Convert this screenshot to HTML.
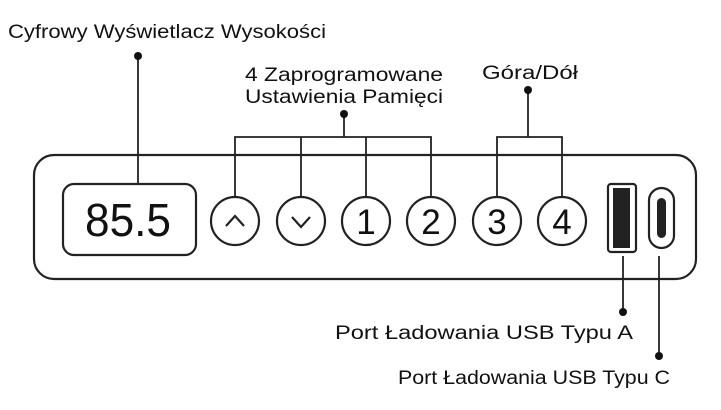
<!DOCTYPE html>
<html><head><meta charset="utf-8"><style>
html,body{margin:0;padding:0;background:#fff;}
svg{display:block;}
text{font-family:"Liberation Sans","DejaVu Sans",sans-serif;fill:#111;}
</style></head><body>
<svg width="721" height="410" viewBox="0 0 721 410" xmlns="http://www.w3.org/2000/svg">
<rect x="0" y="0" width="721" height="410" fill="#fff"/>
<g stroke="#222" stroke-width="2.2" fill="none">
<rect x="34" y="155" width="662" height="124" rx="20"/>
<rect x="63" y="184" width="133" height="71" rx="11"/>
<circle cx="235" cy="221" r="24"/>
<circle cx="301" cy="221" r="24"/>
<circle cx="366" cy="221" r="24"/>
<circle cx="431" cy="221" r="24"/>
<circle cx="497" cy="221" r="24"/>
<circle cx="562" cy="221" r="24"/>
<rect x="608" y="184" width="28" height="68" rx="3"/>
<rect x="649" y="188" width="25" height="60" rx="12.5"/>
<polyline points="226,226 235,216 244,226"/>
<polyline points="292,217 301,227 310,217"/>
<line x1="138" y1="56" x2="138" y2="184" stroke-width="1.8"/>
<polyline points="235,197 235,137 431,137 431,197" stroke-width="1.8"/>
<line x1="301" y1="137" x2="301" y2="197" stroke-width="1.8"/>
<line x1="366" y1="137" x2="366" y2="197" stroke-width="1.8"/>
<line x1="344" y1="114" x2="344" y2="137" stroke-width="1.8"/>
<polyline points="497,197 497,137 562,137 562,197" stroke-width="1.8"/>
<line x1="528" y1="90" x2="528" y2="137" stroke-width="1.8"/>
<line x1="623" y1="256" x2="623" y2="312" stroke-width="1.8"/>
<line x1="659" y1="256" x2="659" y2="356" stroke-width="1.8"/>
</g>
<rect x="613" y="188" width="17" height="60" fill="#222"/>
<rect x="657" y="198" width="9" height="40" rx="4.5" fill="#222"/>
<g fill="#111">
<circle cx="138" cy="56" r="4"/>
<circle cx="344" cy="114" r="4"/>
<circle cx="528" cy="90" r="4"/>
<circle cx="623" cy="312" r="4"/>
<circle cx="659" cy="356" r="4"/>
</g>
<text x="85" y="236" font-size="46" textLength="86" lengthAdjust="spacingAndGlyphs" style="font-weight:300">85.5</text>
<g font-size="35" text-anchor="middle">
<text x="366" y="234">1</text>
<text x="431" y="234">2</text>
<text x="497" y="234">3</text>
<text x="562" y="234">4</text>
</g>
<g font-size="19">
<text x="8" y="38" textLength="318" lengthAdjust="spacingAndGlyphs">Cyfrowy Wyświetlacz Wysokości</text>
<text x="245" y="81" textLength="198" lengthAdjust="spacingAndGlyphs">4 Zaprogramowane</text>
<text x="245" y="103" textLength="198" lengthAdjust="spacingAndGlyphs">Ustawienia Pamięci</text>
<text x="482" y="79" textLength="96" lengthAdjust="spacingAndGlyphs">Góra/Dół</text>
<text x="335" y="339" textLength="298" lengthAdjust="spacingAndGlyphs">Port Ładowania USB Typu A</text>
<text x="398" y="384" textLength="272" lengthAdjust="spacingAndGlyphs">Port Ładowania USB Typu C</text>
</g>
</svg>
</body></html>
